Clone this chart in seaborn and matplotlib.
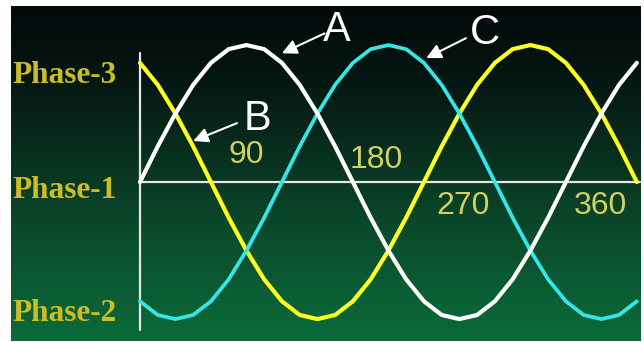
import numpy as np
import seaborn as sns
import matplotlib.pyplot as plt
from matplotlib.colors import LinearSegmentedColormap

# angle in degrees, sampled every 15 degrees
angle = [0, 15, 30, 45, 60, 75, 90, 105, 120, 135, 150, 165, 180, 195, 210,
         225, 240, 255, 270, 285, 300, 315, 330, 345, 360, 375, 390, 405, 420]

# A = white, B = yellow, C = cyan (peak = 1)
phase_a = [0.00, 0.26, 0.50, 0.71, 0.87, 0.97, 1.00, 0.97, 0.87, 0.71, 0.50,
           0.26, 0.00, -0.26, -0.50, -0.71, -0.87, -0.97, -1.00, -0.97, -0.87,
           -0.71, -0.50, -0.26, 0.00, 0.26, 0.50, 0.71, 0.87]
phase_b = [0.87, 0.71, 0.50, 0.26, 0.00, -0.26, -0.50, -0.71, -0.87, -0.97,
           -1.00, -0.97, -0.87, -0.71, -0.50, -0.26, 0.00, 0.26, 0.50, 0.71,
           0.87, 0.97, 1.00, 0.97, 0.87, 0.71, 0.50, 0.26, 0.00]
phase_c = [-0.87, -0.97, -1.00, -0.97, -0.87, -0.71, -0.50, -0.26, 0.00, 0.26,
           0.50, 0.71, 0.87, 0.97, 1.00, 0.97, 0.87, 0.71, 0.50, 0.26, 0.00,
           -0.26, -0.50, -0.71, -0.87, -0.97, -1.00, -0.97, -0.87]

phase_names = ["Phase-3", "Phase-1", "Phase-2"]
degree_labels = ["90", "180", "270", "360"]
curve_names = ["A", "B", "C"]

sns.set_style("white")

fig = plt.figure(figsize=(6.44, 3.42), dpi=100, facecolor="white")
ax = fig.add_axes([11 / 644, 1 - 341 / 342, 630 / 644, 335 / 342])

# dark green background gradient
bg = LinearSegmentedColormap.from_list(
    "bg", [(0, "#0a6b39"), (0.3, "#0b4e2d"), (0.55, "#08301f"),
           (0.78, "#051712"), (1, "#03080a")])
ax.imshow(np.linspace(0, 1, 256).reshape(-1, 1), cmap=bg, origin="lower",
          extent=[0, 1, 0, 1], transform=ax.transAxes, aspect="auto", zorder=0)

# axes lines
ax.plot([0, 0], [0.94, -1.08], color="#e6e6e6", lw=1.6, zorder=1)
ax.plot([0, 423], [0, 0], color="#e6e6e6", lw=1.6, zorder=1)

sns.lineplot(x=angle, y=phase_a, color="white", lw=3.0, ax=ax, zorder=3)
sns.lineplot(x=angle, y=phase_b, color="#ffff22", lw=3.0, ax=ax, zorder=2)
sns.lineplot(x=angle, y=phase_c, color="#33e6ea", lw=2.7, ax=ax, zorder=2)

ax.set_xlim(-109, 423.5)
ax.set_ylim(-1.16, 1.285)
ax.axis("off")

# phase labels on the left
for name, yy in zip(phase_names, [0.78, -0.06, -0.96]):
    ax.text(-107.5, yy, name, color="#cabd28", fontsize=22.5, fontweight="bold",
            family="Liberation Serif", ha="left", va="center", zorder=4)

# degree labels
for lab, xx, yy in zip(degree_labels, [90, 200, 273, 389], [0.20, 0.16, -0.175, -0.175]):
    ax.text(xx, yy, lab, color="#d0d064", fontsize=23, family="Liberation Sans",
            ha="center", va="center", zorder=4)

# curve letters with arrows
letter_pos = [(166.5, 1.11), (99.7, 0.46), (291.6, 1.09)]
arrow_tail = [(156, 1.085), (82, 0.43), (275.5, 1.05)]
arrow_head = [(120, 0.94), (45, 0.30), (242, 0.905)]
for name, pos, tail, head in zip(curve_names, letter_pos, arrow_tail, arrow_head):
    ax.text(pos[0], pos[1], name, color="white", fontsize=30,
            family="Liberation Sans", ha="center", va="center", zorder=5)
    ax.annotate("", xy=head, xytext=tail,
                arrowprops=dict(arrowstyle="-|>", color="white", lw=1.5,
                                mutation_scale=22, shrinkA=0, shrinkB=0),
                zorder=5)

fig.savefig("out.png", dpi=100, facecolor="white")
